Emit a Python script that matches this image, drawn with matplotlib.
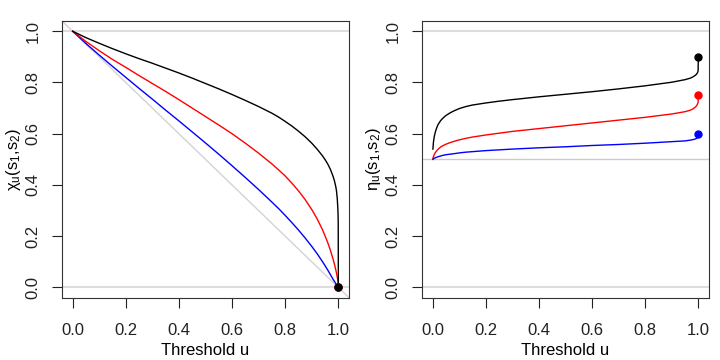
# -*- coding: utf-8 -*-
"""
Extremal dependence measures chi_u and eta_u against threshold u
"""

import numpy as np
import matplotlib
matplotlib.use('Agg')
import matplotlib.pyplot as plt

### Values
u_chi = [0, 0.05, 0.1, 0.15, 0.2, 0.25, 0.3, 0.35, 0.4, 0.45, 0.5, 0.55, 0.6, 0.65, 0.7, 0.75,
         0.775, 0.8, 0.825, 0.85, 0.875, 0.9, 0.92, 0.94, 0.95, 0.96, 0.97, 0.98, 0.985, 0.99,
         0.993, 0.996, 0.998, 0.999, 0.9995, 1.0]
chi_black = [1.000, 0.975, 0.953, 0.932, 0.912, 0.893, 0.875, 0.856, 0.837, 0.817, 0.796, 0.775, 0.753, 0.730,
             0.706, 0.680, 0.665, 0.648, 0.630, 0.610, 0.588, 0.563, 0.540, 0.514, 0.499, 0.482, 0.461, 0.434,
             0.417, 0.395, 0.377, 0.345, 0.310, 0.280, 0.250, 0.0]
chi_red = [1.000, 0.960, 0.924, 0.890, 0.859, 0.827, 0.796, 0.765, 0.733, 0.700, 0.667, 0.634, 0.600, 0.563,
           0.524, 0.482, 0.459, 0.435, 0.407, 0.377, 0.343, 0.304, 0.268, 0.226, 0.201, 0.175, 0.145, 0.111,
           0.092, 0.070, 0.056, 0.040, 0.027, 0.019, 0.013, 0.0]
chi_blue = [1.000, 0.952, 0.907, 0.863, 0.820, 0.777, 0.735, 0.692, 0.650, 0.607, 0.564, 0.520, 0.475, 0.429,
            0.382, 0.333, 0.308, 0.281, 0.253, 0.224, 0.193, 0.160, 0.132, 0.101, 0.085, 0.068, 0.050, 0.032,
            0.024, 0.016, 0.011, 0.007, 0.004, 0.002, 0.001, 0.0]

u_eta = [0.001, 0.003, 0.006, 0.01, 0.015, 0.02, 0.03, 0.04, 0.05, 0.065, 0.08, 0.1, 0.125, 0.15, 0.2, 0.25,
         0.3, 0.4, 0.5, 0.6, 0.7, 0.8, 0.9, 0.95, 0.97, 0.98, 0.99, 0.995, 0.998, 0.999, 1.0]
eta_black = [0.540, 0.566, 0.588, 0.606, 0.622, 0.635, 0.651, 0.662, 0.671, 0.681, 0.689, 0.698, 0.706, 0.712,
             0.720, 0.727, 0.733, 0.744, 0.754, 0.764, 0.775, 0.787, 0.801, 0.811, 0.817, 0.822, 0.829, 0.835,
             0.841, 0.846, 0.9]
eta_red = [0.503, 0.510, 0.518, 0.526, 0.533, 0.539, 0.548, 0.554, 0.559, 0.565, 0.570, 0.576, 0.582, 0.587,
           0.595, 0.602, 0.609, 0.620, 0.631, 0.642, 0.653, 0.664, 0.677, 0.686, 0.692, 0.697, 0.705, 0.712,
           0.719, 0.723, 0.75]
eta_blue = [0.500, 0.502, 0.504, 0.506, 0.508, 0.510, 0.513, 0.516, 0.518, 0.520, 0.522, 0.525, 0.528, 0.530,
            0.534, 0.537, 0.540, 0.545, 0.549, 0.554, 0.558, 0.563, 0.569, 0.572, 0.575, 0.577, 0.580, 0.583,
            0.586, 0.588, 0.6]

colors = ['black', 'red', 'blue']
ticks = [0.0, 0.2, 0.4, 0.6, 0.8, 1.0]

plt.rcParams['font.family'] = ['Liberation Sans', 'DejaVu Sans']
plt.rcParams['mathtext.fontset'] = 'custom'
plt.rcParams['mathtext.rm'] = 'Liberation Sans'
plt.rcParams['mathtext.it'] = 'Liberation Sans'
plt.rcParams['mathtext.default'] = 'regular'

fig = plt.figure(figsize=(7.2, 3.6), dpi=100)
ax1 = fig.add_axes([0.0861, 0.1731, 0.3986, 0.7686])
ax2 = fig.add_axes([0.5861, 0.1731, 0.3986, 0.7686])

def style_axis(ax, ylab):
    ax.set_xlim(-0.04, 1.04)
    ax.set_ylim(-0.04, 1.04)
    ax.set_xticks(ticks)
    ax.set_yticks(ticks)
    ax.set_xticklabels(['%.1f' % t for t in ticks], fontsize=12)
    ax.set_yticklabels(['%.1f' % t for t in ticks], fontsize=12, rotation=90, va='center')
    ax.tick_params(direction='out', length=7, width=0.8, colors='#222222')
    ax.tick_params(axis='x', pad=11.5)
    ax.tick_params(axis='y', pad=8.5)
    for s in ax.spines.values():
        s.set_linewidth(0.8)
        s.set_color('#333333')
    ax.set_xlabel('Threshold u', fontsize=12, labelpad=3)
    ax.set_ylabel(ylab, fontsize=12, labelpad=2)

### Left panel: chi_u
ax1.axhline(0, color='#dddddd', lw=1.5, zorder=0)
ax1.axhline(1, color='#dddddd', lw=1.5, zorder=0)
ax1.plot([-0.04, 1.04], [1.04, -0.04], color='#d3d3d3', lw=1.0, zorder=0)
for vals, c in zip([chi_blue, chi_red, chi_black], colors[::-1]):
    ax1.plot(u_chi, vals, color=c, lw=1.0)
for vals, c in zip([chi_blue, chi_red, chi_black], colors[::-1]):
    ax1.plot(u_chi[-1], vals[-1], 'o', color=c, ms=5)
style_axis(ax1, r'$\chi_u(s_1{,}s_2)$')

### Right panel: eta_u
ax2.axhline(0, color='#dddddd', lw=1.5, zorder=0)
ax2.axhline(1, color='#dddddd', lw=1.5, zorder=0)
ax2.axhline(0.5, color='#cccccc', lw=1.0, zorder=0)
for vals, c in zip([eta_black, eta_red, eta_blue], colors):
    ax2.plot(u_eta, vals, color=c, lw=1.0)
    ax2.plot(u_eta[-1], vals[-1], 'o', color=c, ms=5)
style_axis(ax2, r'$\eta_u(s_1{,}s_2)$')

fig.savefig('out.png', dpi=100)
